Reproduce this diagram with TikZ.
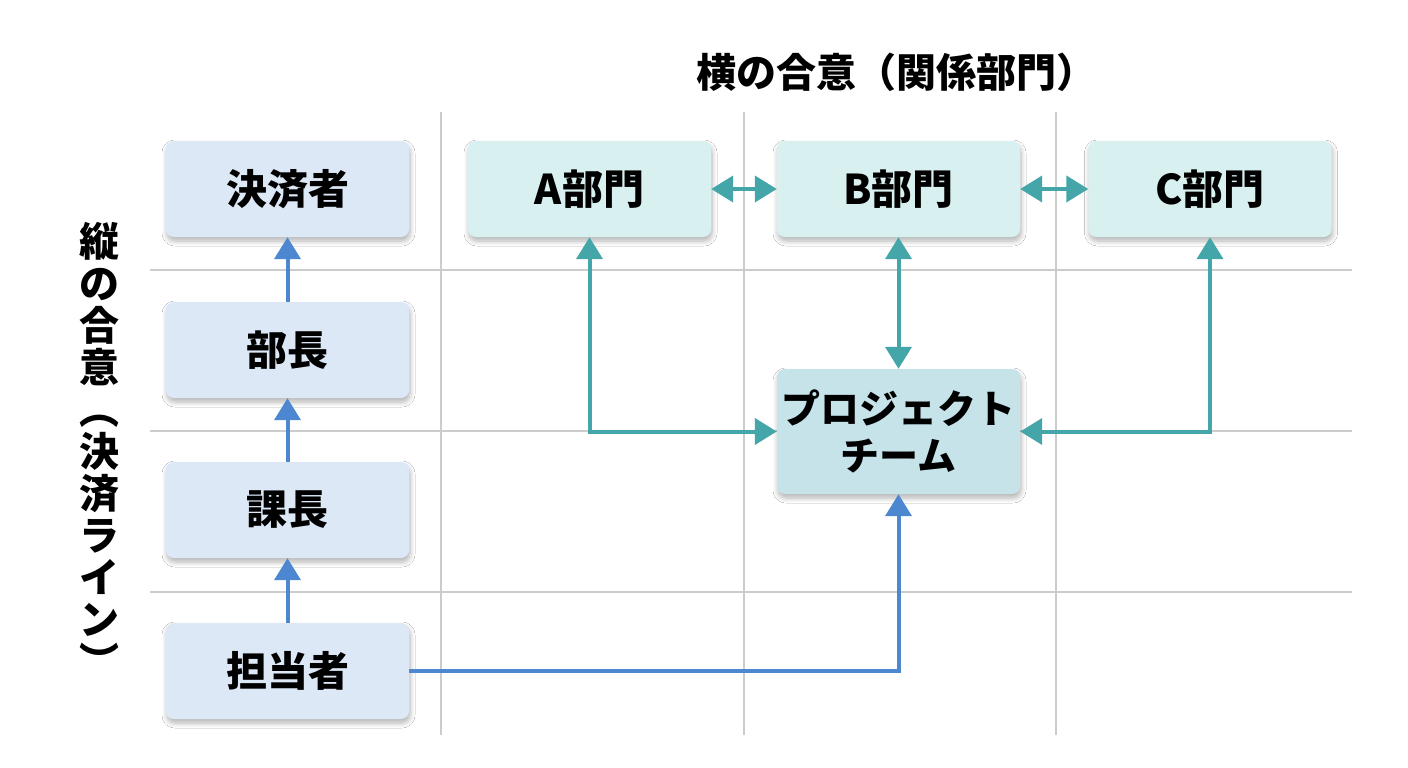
\documentclass[tikz,border=0pt]{standalone}
\usepackage{fontspec}
\setmainfont{Noto Sans CJK JP}
\usetikzlibrary{arrows.meta,shadows.blur}
\definecolor{bluebox}{HTML}{DDE8F7}
\definecolor{tealbox}{HTML}{D8F0F0}
\definecolor{ptbox}{HTML}{C6E3EA}
\definecolor{bluearr}{HTML}{4C87D0}
\definecolor{tealarr}{HTML}{45A6A9}
\definecolor{gridc}{HTML}{CCCCCC}
\tikzset{
  box/.style={rounded corners=8pt, minimum width=243pt, minimum height=96pt, inner sep=0pt,
    font=\bfseries\fontsize{41}{47}\selectfont, align=center,
    blur shadow={shadow xshift=1pt, shadow yshift=-4pt, shadow blur steps=8, shadow opacity=30, shadow blur radius=5pt}},
  vbox/.style={box, fill=bluebox},
  hbox/.style={box, fill=tealbox},
  pbox/.style={box, fill=ptbox, minimum height=125pt, font=\bfseries\fontsize{39}{47}\selectfont},
  gridline/.style={draw=gridc, line width=1.2pt},
  barrow/.style={draw=bluearr, line width=4pt, -{Triangle[length=22pt,width=26pt]}},
  tarrow/.style={draw=tealarr, line width=4pt, {Triangle[length=22pt,width=26pt]}-{Triangle[length=22pt,width=26pt]}},
  title/.style={font=\bfseries\fontsize{40}{42}\selectfont},
}
\begin{document}
\begin{tikzpicture}[x=1pt,y=-1pt]
\useasboundingbox[fill=white] (0,0) rectangle (1408,768);
% grid
\foreach \gx in {441,744,1056} \draw[gridline] (\gx,112) -- (\gx,735);
\foreach \gy in {270,431,592} \draw[gridline] (150,\gy) -- (1352,\gy);
% title labels
\node[title] (htitle) at (896,72) {横の合意（関係部門）};
\node[title, align=center] (vtitle) at (99,449)
  {縦\\の\\合\\意\\︵\\決\\済\\ラ\\イ\\ン\\︶};
% left column
\node[vbox] (kessai) at (287.5,189) {決済者};
\node[vbox] (bucho) at (287.5,350) {部長};
\node[vbox] (kacho) at (287.5,510) {課長};
\node[vbox] (tanto) at (287.5,671) {担当者};
% top row
\node[hbox] (A) at (589.5,189) {A部門};
\node[hbox] (B) at (898.5,189) {B部門};
\node[hbox] (C) at (1210,189) {C部門};
% project team
\node[pbox] (pt) at (898.5,431.5) {プロジェクト\\チーム};
% vertical chain
\draw[barrow] (bucho.north) -- (kessai.south);
\draw[barrow] (kacho.north) -- (bucho.south);
\draw[barrow] (tanto.north) -- (kacho.south);
\draw[barrow] (tanto.east) -| (pt.south);
% horizontal
\draw[tarrow] (A.east) -- (B.west);
\draw[tarrow] (B.east) -- (C.west);
\draw[tarrow] (B.south) -- (pt.north);
\draw[tarrow] (A.south) |- (pt.west);
\draw[tarrow] (C.south) |- (pt.east);
\end{tikzpicture}
\end{document}
